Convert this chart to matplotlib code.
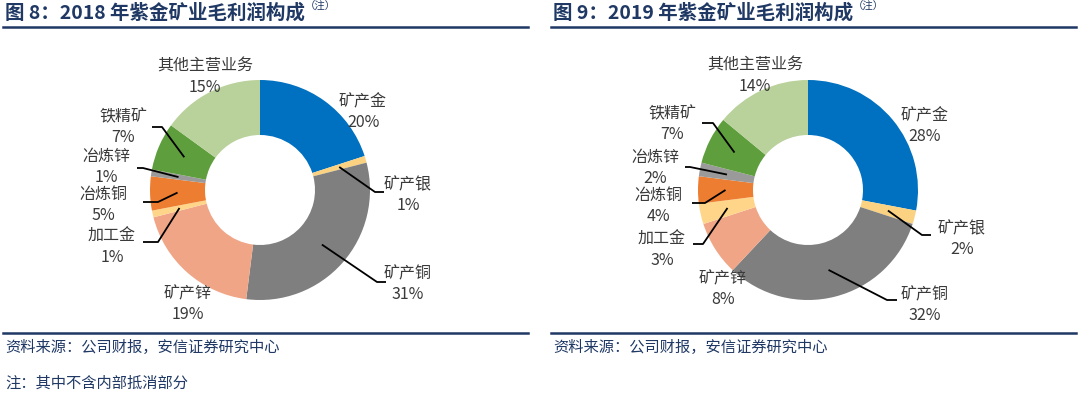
import matplotlib
matplotlib.use("Agg")
import matplotlib.pyplot as plt
import numpy as np

plt.rcParams['font.family'] = ['Noto Sans CJK SC', 'DejaVu Sans']

# data
segments = ["矿产金", "矿产银", "矿产铜", "矿产锌", "加工金", "冶炼铜", "冶炼锌", "铁精矿", "其他主营业务"]
share_2018 = [20, 1, 31, 19, 1, 5, 1, 7, 15]
share_2019 = [28, 2, 32, 8, 3, 4, 2, 7, 14]
titles = ["图 8：2018 年紫金矿业毛利润构成", "图 9：2019 年紫金矿业毛利润构成"]
source_text = "资料来源：公司财报，安信证券研究中心"
note_text = "注：其中不含内部抵消部分"

colors = ["#0070C0", "#FAD282", "#7F7F7F", "#F0A586", "#FFD58A",
          "#ED7D31", "#9A9A9A", "#5F9E3C", "#B9D19A"]
navy = "#1F3864"
label_color = "#3a3a3a"

W, H = 1080, 396

# layout (pixel coords, y from top)
centers = [(260, 190), (808, 190)]
R = 110
label_pos = [
    [(363, 112), (408, 195), (408, 284), (188, 304), (112, 247),
     (103, 205), (106, 167), (123, 127), (205, 77)],
    [(925, 126), (962, 239), (925, 305), (723, 289), (662, 250),
     (658, 206), (655, 168), (672, 124), (755, 76)],
]
# elbow point and horizontal end x for leader lines
leaders = [
    [None, (375, 192, 384), (377, 282, 386), None, (158, 242, 143),
     (158, 202, 143), (143, 168, 137), (162, 127, 152), None],
    [None, (922, 235, 931), (887, 300, 897), None, (703, 244, 693),
     (705, 203, 692), (690, 167, 685), (713, 123, 702), None],
]
panel_x = [(3, 528), (551, 1076)]


def fy(y):
    return H - y


fig = plt.figure(figsize=(W / 100, H / 100), dpi=100)
ax = fig.add_axes([0, 0, 1, 1])

for k, shares in enumerate([share_2018, share_2019]):
    cx, cy = centers[k]
    wedges, _ = ax.pie(shares, colors=colors, startangle=90, counterclock=False,
                       radius=R, center=(cx, fy(cy)),
                       wedgeprops=dict(width=R / 2, linewidth=0))
    for i, w in enumerate(wedges):
        ax.text(label_pos[k][i][0], fy(label_pos[k][i][1]),
                f"{segments[i]}\n{shares[i]}%", ha="center", va="center",
                fontsize=11.5, color=label_color, linespacing=1.3)
        ld = leaders[k][i]
        if ld is None:
            continue
        ang = np.deg2rad((w.theta1 + w.theta2) / 2)
        sx = cx + 0.75 * R * np.cos(ang)
        sy = fy(cy) + 0.75 * R * np.sin(ang)
        ax.plot([sx, ld[0], ld[2]], [sy, fy(ld[1]), fy(ld[1])],
                color="black", lw=1.3, solid_capstyle="butt")

    x0, x1 = panel_x[k]
    t = ax.text(x0 + 2, fy(13), titles[k], ha="left", va="center",
                fontsize=14, fontweight="bold", color=navy)
    ax.annotate("（注）", xy=(1, 1), xycoords=t, xytext=(0, 1),
                textcoords="offset points", ha="left", va="top",
                fontsize=7.5, color=navy)
    ax.plot([x0, x1], [fy(27), fy(27)], color=navy, lw=1.8)
    ax.plot([x0, x1], [fy(333), fy(333)], color=navy, lw=1.8)
    ax.text(x0 + 2, fy(347), source_text, ha="left", va="center",
            fontsize=11, style="italic", color=navy)

ax.text(5, fy(383), note_text, ha="left", va="center",
        fontsize=11, style="italic", color=navy)

ax.set_xlim(0, W)
ax.set_ylim(0, H)
ax.set_aspect("auto")
ax.axis("off")

fig.savefig("out.png", dpi=100)
